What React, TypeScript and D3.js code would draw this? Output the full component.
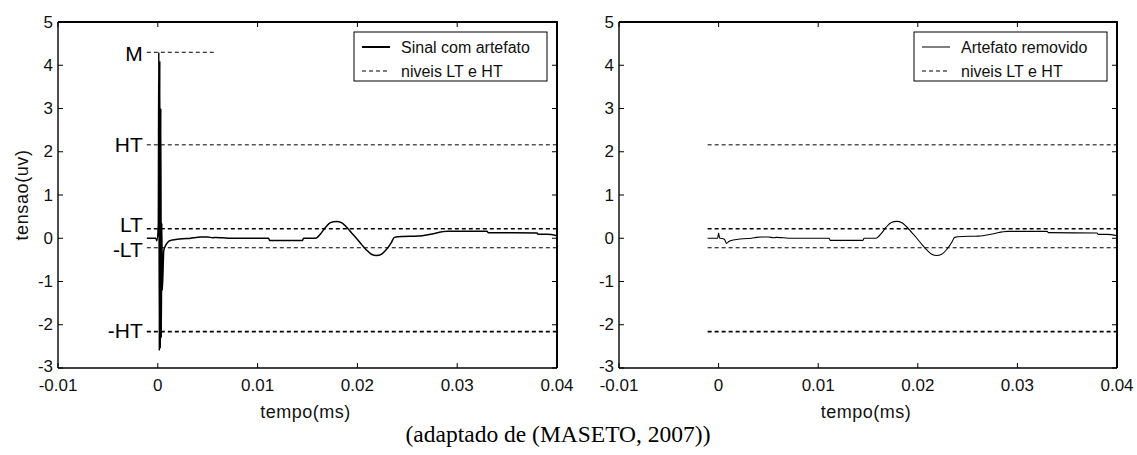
import React from 'react';
import * as d3 from 'd3';

// ---------- data ----------
const xTicks = [-0.01, 0, 0.01, 0.02, 0.03, 0.04];
const yTicks = [-3, -2, -1, 0, 1, 2, 3, 4, 5];
const xDomain = [-0.01, 0.04];
const yDomain = [-3, 5];

const levelM = 4.3;
const levelHT = 2.16;
const levelLT = 0.22;
const levelStartTime = -0.0011;
const markerEndTime = 0.0056;

// signal with stimulation artifact (head part, left panel)
const artifactTime = [-0.0011, -0.0004, -0.0002, -0.0001, 0.00005, 0.0001, 0.00015, 0.0002, 0.00025, 0.0003, 0.00035, 0.0004, 0.00045, 0.0006, 0.0008, 0.001, 0.0013];
const artifactValue = [0.0, 0.0, 0.0, -0.06, 0.3, 4.3, -2.6, 4.1, -2.55, 3.0, -2.3, 0.35, -1.2, -0.28, -0.16, -0.09, -0.05];

// signal after artifact removal (head part, right panel)
const cleanHeadTime = [-0.0011, -0.0003, -0.0001, 0.0, 0.0001, 0.0002, 0.0006, 0.0008, 0.001, 0.0013];
const cleanHeadValue = [0.0, 0.0, 0.0, 0.12, 0.0, 0.0, -0.03, -0.12, -0.08, -0.05];

// common part of both signals
const tailTime = [0.0018, 0.0025, 0.0033, 0.0038, 0.0043, 0.005, 0.0055, 0.0058, 0.0065, 0.0073, 0.0111, 0.0112, 0.0145, 0.0146, 0.0158,
  0.0163, 0.0168, 0.0173, 0.0179, 0.0184, 0.0189, 0.0194, 0.0199, 0.0204, 0.0209, 0.0214, 0.0219, 0.0224, 0.0229, 0.0234, 0.0237,
  0.0245, 0.0261, 0.0275, 0.029, 0.033, 0.0331, 0.038, 0.0381, 0.039, 0.04];
const tailValue = [-0.03, -0.01, 0.0, 0.02, 0.03, 0.03, 0.01, 0.02, 0.01, 0.0, 0.0, -0.05, -0.05, 0.0, 0.0,
  0.1, 0.25, 0.36, 0.39, 0.36, 0.26, 0.13, 0.0, -0.14, -0.27, -0.37, -0.4, -0.37, -0.26, -0.1, 0.02,
  0.04, 0.05, 0.1, 0.16, 0.16, 0.13, 0.12, 0.09, 0.09, 0.06];

const legendLeft = ['Sinal com artefato', 'niveis LT e HT'];
const legendRight = ['Artefato removido', 'niveis LT e HT'];
const xLabel = 'tempo(ms)';
const yLabel = 'tensao(uv)';
const caption = '(adaptado de (MASETO, 2007))';

// ---------- layout ----------
const W = 1137;
const H = 455;
const TOP = 22;
const BOTTOM = 368;
const FONT = '"Liberation Sans", Arial, sans-serif';

type Pt = { t: number; v: number };
const zip = (ts: number[], vs: number[]): Pt[] => ts.map((t, i) => ({ t, v: vs[i] }));

const leftSignal = [...zip(artifactTime, artifactValue), ...zip(tailTime, tailValue)];
const rightSignal = [...zip(cleanHeadTime, cleanHeadValue), ...zip(tailTime, tailValue)];

type PanelProps = {
  x0: number;
  x1: number;
  signal: Pt[];
  legend: string[];
  legendThick: boolean;
  lineWidth: number;
  annotate: boolean;
  showYLabel: boolean;
  id: string;
};

function Panel({ x0, x1, signal, legend, legendThick, lineWidth, annotate, showYLabel, id }: PanelProps) {
  const x = d3.scaleLinear().domain(xDomain).range([x0, x1]);
  const y = d3.scaleLinear().domain(yDomain).range([BOTTOM, TOP]);
  const line = d3.line<Pt>().x(d => x(d.t)).y(d => y(d.v)).curve(d3.curveMonotoneX);

  const levels = [
    { v: levelHT, w: 1, label: 'HT', dy: 0 },
    { v: levelLT, w: 1.7, label: 'LT', dy: -4 },
    { v: -levelLT, w: 1, label: '-LT', dy: 2 },
    { v: -levelHT, w: 1.7, label: '-HT', dy: -1 },
  ];
  const tick = 5;
  const lgRight = x1 - 10;
  const lgLeft = lgRight - 193;
  const lgTop = 32;
  const lgBottom = 81;
  const labelX = x(-0.0015);

  return (
    <g>
      <defs>
        <clipPath id={id}>
          <rect x={x0} y={TOP} width={x1 - x0} height={BOTTOM - TOP} />
        </clipPath>
      </defs>
      {/* level lines */}
      {levels.map((l, i) => (
        <line key={i} x1={x(levelStartTime)} x2={x1} y1={y(l.v)} y2={y(l.v)}
          stroke="#000" strokeWidth={l.w} strokeDasharray="4,3" />
      ))}
      {annotate && (
        <g fontFamily={FONT} fontSize={21} fill="#000">
          <line x1={x(levelStartTime)} x2={x(markerEndTime)} y1={y(levelM)} y2={y(levelM)}
            stroke="#000" strokeWidth={1} strokeDasharray="4,3" />
          <text x={labelX} y={y(levelM) + 1} textAnchor="end" dominantBaseline="central">M</text>
          {levels.map((l, i) => (
            <text key={i} x={labelX} y={y(l.v) + l.dy} textAnchor="end" dominantBaseline="central">{l.label}</text>
          ))}
        </g>
      )}
      {/* signal */}
      <path d={line(signal) || ''} fill="none" stroke="#000" strokeWidth={lineWidth} clipPath={`url(#${id})`} />
      {/* axes box */}
      <line x1={x0} x2={x1} y1={BOTTOM} y2={BOTTOM} stroke="#000" strokeWidth={1.4} />
      <line x1={x0} x2={x0} y1={TOP} y2={BOTTOM} stroke="#000" strokeWidth={1.4} />
      <line x1={x0} x2={x1 + 1} y1={TOP} y2={TOP} stroke="#000" strokeWidth={2} />
      <line x1={x1} x2={x1} y1={TOP} y2={BOTTOM} stroke="#000" strokeWidth={2} />
      {/* ticks */}
      {xTicks.map((t, i) => (
        <g key={i}>
          <line x1={x(t)} x2={x(t)} y1={BOTTOM} y2={BOTTOM - tick} stroke="#000" strokeWidth={1} />
          <line x1={x(t)} x2={x(t)} y1={TOP} y2={TOP + tick} stroke="#000" strokeWidth={1} />
          <text x={x(t)} y={391} textAnchor="middle" fontFamily={FONT} fontSize={17} fill="#111">{String(t)}</text>
        </g>
      ))}
      {yTicks.map((v, i) => (
        <g key={i}>
          <line x1={x0} x2={x0 + tick} y1={y(v)} y2={y(v)} stroke="#000" strokeWidth={1} />
          <line x1={x1} x2={x1 - tick} y1={y(v)} y2={y(v)} stroke="#000" strokeWidth={1} />
          <text x={x0 - 5} y={y(v) - (v === -3 ? 2 : 0)} textAnchor="end" dominantBaseline="central" fontFamily={FONT} fontSize={17} fill="#111">{String(v)}</text>
        </g>
      ))}
      {/* axis labels */}
      <text x={(x0 + x1) / 2 - 2} y={418} textAnchor="middle" fontFamily={FONT} fontSize={18} letterSpacing={0.5} fill="#111">{xLabel}</text>
      {showYLabel && (
        <text transform={`translate(28, ${(TOP + BOTTOM) / 2}) rotate(-90)`} textAnchor="middle"
          fontFamily={FONT} fontSize={18} letterSpacing={0.6} fill="#111">{yLabel}</text>
      )}
      {/* legend */}
      <rect x={lgLeft} y={lgTop} width={lgRight - lgLeft} height={lgBottom - lgTop} fill="#fff" stroke="#000" strokeWidth={1} />
      <line x1={lgLeft + 8} x2={lgLeft + 36} y1={47} y2={47} stroke="#000" strokeWidth={legendThick ? 2 : 1} />
      <line x1={lgLeft + 8} x2={lgLeft + 36} y1={71} y2={71} stroke="#000" strokeWidth={1} strokeDasharray="4,3" />
      <text x={lgLeft + 47} y={47} dominantBaseline="central" fontFamily={FONT} fontSize={16} fill="#111">{legend[0]}</text>
      <text x={lgLeft + 47} y={71} dominantBaseline="central" fontFamily={FONT} fontSize={16} fill="#111">{legend[1]}</text>
    </g>
  );
}

export default function App() {
  return (
    <svg width={W} height={H} viewBox={`0 0 ${W} ${H}`}
      style={{ position: 'absolute', left: 0, top: 0, background: '#fff' }}>
      <rect x={0} y={0} width={W} height={H} fill="#fff" />
      <Panel x0={58} x1={557} signal={leftSignal} legend={legendLeft} legendThick={true}
        lineWidth={1.5} annotate={true} showYLabel={true} id="clipL" />
      <Panel x0={619} x1={1117} signal={rightSignal} legend={legendRight} legendThick={false}
        lineWidth={1.1} annotate={false} showYLabel={false} id="clipR" />
      <text x={558} y={442} textAnchor="middle" fontFamily='"Liberation Serif", "Times New Roman", serif'
        fontSize={23.5} fill="#000">{caption}</text>
    </svg>
  );
}
